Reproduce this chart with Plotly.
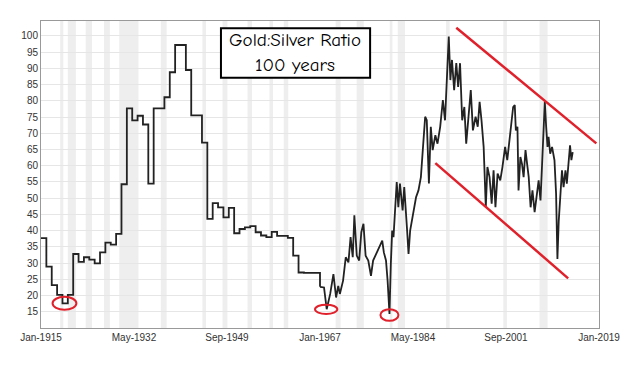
import pandas as pd
import plotly.graph_objects as go

# Annual (stepped) gold:silver ratio, 1915-1967
annual_years = list(range(1915, 1968))
annual_values = [37.7, 28.9, 23.2, 20.2, 17.6, 20.2, 32.8, 30.4, 31.8, 31.1,
                 29.9, 33.3, 36.3, 35.7, 39.0, 54.3, 77.7, 74.0, 75.4, 72.7,
                 54.5, 77.7, 77.7, 81.1, 88.8, 97.2, 97.2, 89.5, 75.5, 75.5,
                 67.1, 43.6, 48.5, 47.2, 44.1, 47.0, 39.2, 40.5, 41.0, 41.4,
                 39.5, 38.5, 38.0, 39.6, 38.4, 38.4, 37.8, 32.3, 27.1, 27.0,
                 27.0, 27.0, 22.7]

# Market-era ratio (decimal year, value), 1967-2014
market_years = [1967.0, 1967.75, 1968.25, 1968.9, 1969.5, 1970.0, 1970.4, 1970.7,
                1971.3, 1971.8, 1972.3, 1972.7, 1973.1, 1973.4, 1973.85, 1974.3,
                1974.7, 1975.1, 1975.5, 1976.0, 1976.5, 1976.9, 1977.6, 1978.2,
                1978.6, 1978.9, 1979.3, 1979.6, 1979.95, 1980.2, 1980.45, 1980.7,
                1981.05, 1981.3, 1981.6, 1981.9, 1982.4, 1982.7, 1983.2, 1983.5,
                1983.8, 1984.4, 1984.9, 1985.35, 1985.8, 1986.2, 1986.6, 1986.9,
                1987.3, 1987.65, 1988.0, 1988.5, 1988.9, 1989.4, 1989.9, 1990.3,
                1990.65, 1991.0, 1991.3, 1991.6, 1992.0, 1992.4, 1992.75, 1993.1,
                1993.5, 1993.9, 1994.25, 1994.7, 1995.1, 1995.5, 1996.0, 1996.4,
                1996.75, 1997.1, 1997.5, 1997.9, 1998.2, 1998.6, 1999.0, 1999.35,
                1999.7, 2000.1, 2000.6, 2001.0, 2001.5, 2001.9, 2002.3, 2002.65,
                2003.0, 2003.3, 2003.5, 2003.8, 2004.0, 2004.35, 2004.65, 2004.95,
                2005.3, 2005.6, 2005.9, 2006.25, 2006.6, 2007.0, 2007.4, 2007.75,
                2008.1, 2008.4, 2008.7, 2008.9, 2009.15, 2009.4, 2009.6, 2009.9,
                2010.25, 2010.5, 2010.7, 2011.0, 2011.25, 2011.5, 2011.8, 2012.1,
                2012.4, 2012.75, 2013.0, 2013.35, 2013.6, 2013.85, 2014.1]
market_values = [22.7, 22.5, 15.8, 20.5, 26.6, 19.4, 23.0, 20.5,
                 24.6, 31.8, 30.2, 38.0, 31.8, 44.7, 32.3, 30.8,
                 39.5, 42.1, 32.3, 30.8, 26.1, 30.8, 33.3, 35.4,
                 36.9, 33.3, 30.8, 24.6, 14.3, 29.7, 40.0, 38.0,
                 46.2, 55.0, 47.2, 54.5, 46.2, 53.4, 41.0, 32.8,
                 40.0, 45.2, 50.3, 52.4, 56.5, 65.8, 75.1, 74.0,
                 54.5, 72.0, 64.8, 69.4, 66.8, 72.0, 80.2, 74.0,
                 89.5, 99.8, 86.4, 92.6, 83.3, 91.6, 84.3, 91.6,
                 74.0, 78.1, 66.8, 75.1, 83.3, 70.9, 75.1, 72.0,
                 79.7, 74.0, 65.8, 47.2, 59.6, 56.5, 48.3, 58.6,
                 47.2, 57.6, 55.5, 59.6, 65.8, 61.7, 67.9, 72.0,
                 78.1, 78.7, 70.9, 72.0, 52.4, 62.7, 60.6, 56.5,
                 64.8, 60.6, 56.5, 47.2, 52.4, 45.7, 51.4, 55.5,
                 49.3, 59.6, 74.0, 79.7, 72.0, 65.8, 68.9, 63.7,
                 65.8, 63.7, 61.7, 51.4, 31.3, 43.1, 51.4, 58.6,
                 53.4, 58.6, 54.5, 60.6, 66.3, 61.7, 64.2]

# US recessions (shaded bands)
recession_starts = ["1918-08", "1920-01", "1923-05", "1926-10", "1929-08", "1937-05",
                    "1945-02", "1948-11", "1953-07", "1957-08", "1960-04", "1969-12",
                    "1973-11", "1980-01", "1981-07", "1990-07", "2001-03", "2007-12"]
recession_ends = ["1919-03", "1921-07", "1924-07", "1927-11", "1933-03", "1938-06",
                  "1945-10", "1949-10", "1954-05", "1958-04", "1961-02", "1970-11",
                  "1975-03", "1980-07", "1982-11", "1991-03", "2001-11", "2009-06"]

y_ticks = list(range(15, 101, 5))

# Annotations: trend channel and circled lows (decimal year, value)
upper_trend = [(1992.4, 102.5), (2018.5, 66.9)]
lower_trend = [(1988.5, 60.8), (2013.25, 25.3)]
circled_lows = [(1917.15, 15.6, 1921.6, 19.6),
                (1966.07, 14.3, 1970.23, 17.2),
                (1978.26, 12.2, 1981.62, 15.8)]


def to_date(y):
    year = int(y)
    start = pd.Timestamp(year=year, month=1, day=1)
    return start + pd.Timedelta(days=(y - year) * 365.25)


fig = go.Figure()
fig.add_trace(go.Scatter(
    x=[pd.Timestamp(year=y, month=1, day=1) for y in annual_years],
    y=annual_values, mode="lines", line=dict(color="#222222", width=1.8, shape="hv"),
    showlegend=False, hoverinfo="skip"))
fig.add_trace(go.Scatter(
    x=[to_date(y) for y in market_years], y=market_values, mode="lines",
    line=dict(color="#222222", width=1.8), showlegend=False, hoverinfo="skip"))

shapes = []
for s, e in zip(recession_starts, recession_ends):
    shapes.append(dict(type="rect", xref="x", yref="paper", x0=s + "-01", x1=e + "-01",
                       y0=0, y1=1, fillcolor="#eeeeee", line=dict(width=0), layer="below"))
for (x0, y0), (x1, y1) in [upper_trend, lower_trend]:
    shapes.append(dict(type="line", xref="x", yref="y", x0=to_date(x0), y0=y0,
                       x1=to_date(x1), y1=y1, line=dict(color="#e0202a", width=2.5)))
for x0, y0, x1, y1 in circled_lows:
    shapes.append(dict(type="circle", xref="x", yref="y", x0=to_date(x0), y0=y0,
                       x1=to_date(x1), y1=y1, line=dict(color="#e0202a", width=2)))
shapes.append(dict(type="rect", xref="paper", yref="paper", x0=0.3225, x1=0.5898,
                   y0=0.815, y1=0.976, fillcolor="white", line=dict(color="black", width=2)))

fig.update_layout(
    width=624, height=362, margin=dict(l=33, r=33, t=13, b=42),
    paper_bgcolor="white", plot_bgcolor="white", shapes=shapes,
    font=dict(family="Liberation Sans, Arial, sans-serif", size=10, color="#333333"),
    annotations=[dict(xref="paper", yref="paper", x=0.456, y=0.897, xanchor="center",
                      yanchor="middle", showarrow=False,
                      text="Gold:Silver Ratio<br>100 years", align="center",
                      font=dict(family="Comic Sans MS, Comic Neue, DejaVu Sans", size=19,
                                color="black"))],
)
fig.update_xaxes(type="date", range=["1915-01-01", "2019-01-01"], tick0="1915-01-01",
                 dtick="M208", tickformat="%b-%Y", showgrid=False, showline=True,
                 linecolor="#999999", mirror=True, ticks="", ticklen=0)
fig.update_yaxes(range=[10, 104.6], tickvals=y_ticks, showgrid=True, gridcolor="#e6e6e6",
                 gridwidth=1, showline=True, linecolor="#999999", mirror=True,
                 zeroline=False, ticks="")

fig.write_html("out.html")
